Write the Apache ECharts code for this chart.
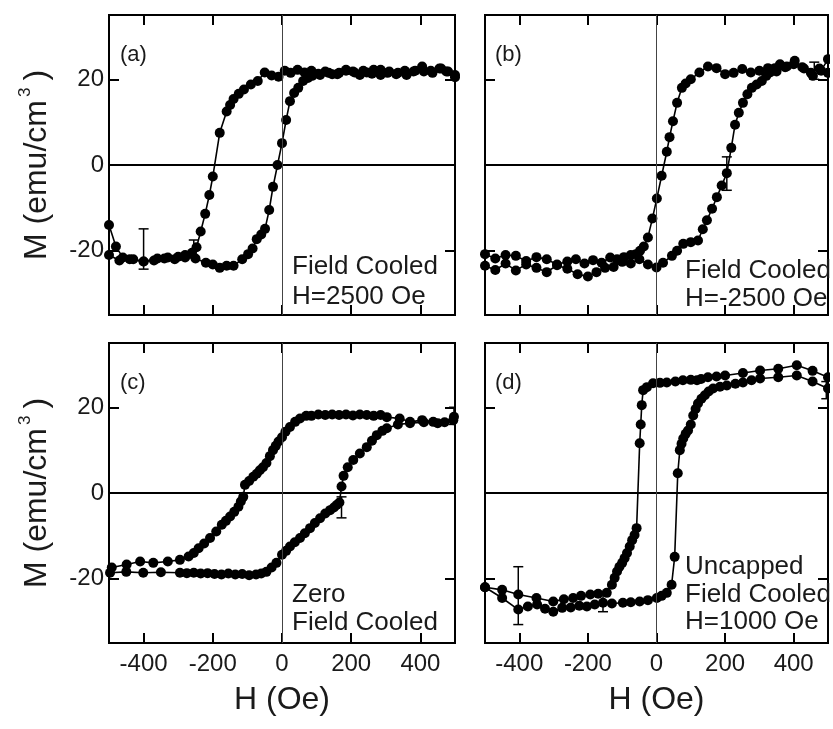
<!DOCTYPE html>
<html>
<head>
<meta charset="utf-8">
<script src="https://cdn.jsdelivr.net/npm/echarts@6/dist/echarts.min.js"></script>
<style>
  html, body { margin: 0; padding: 0; background: #fff; }
  #chart { width: 833px; height: 729px; }
</style>
</head>
<body>
<div id="chart"></div>
<script>
// Axis ticks shared by all four panels
const H_TICKS = [-400, -200, 0, 200, 400];
const M_TICKS = [-20, 0, 20];

// (a) Field cooled, H = 2500 Oe : decreasing-field branch then increasing-field branch
const aDownH = [500, 475, 455, 430, 405, 380, 355, 330, 305, 285, 265, 245, 225, 205, 185, 165, 145, 125, 105, 85, 65, 45, 25, 8, -10, -30, -50, -70, -90, -110, -125, -140, -150, -160, -180, -200, -210, -222, -235, -247, -260, -280, -300, -330, -360, -400, -440, -470, -500];
const aDownM = [20.5, 21.8, 22.5, 22.0, 23.0, 21.8, 22.0, 21.2, 21.5, 21.0, 22.2, 21.6, 21.0, 21.8, 22.2, 21.5, 21.2, 21.8, 21.3, 22.0, 21.6, 22.2, 21.5, 22.0, 20.6, 20.9, 21.6, 19.6, 18.8, 17.6, 16.6, 15.4, 14.0, 12.5, 7.5, -2.7, -7.0, -11.4, -15.5, -19.2, -20.5, -21.0, -21.4, -21.6, -21.8, -22.5, -22.0, -22.3, -21.0];
const aUpH = [-500, -480, -460, -430, -400, -370, -340, -310, -280, -250, -220, -200, -180, -160, -140, -115, -98, -85, -73, -60, -49, -37, -26, -13, 0, 12, 23, 35, 47, 61, 75, 87, 110, 135, 160, 185, 210, 235, 260, 285, 310, 335, 360, 385, 410, 435, 460, 480, 500];
const aUpM = [-14.0, -19.0, -21.6, -22.0, -22.5, -22.3, -21.8, -22.0, -21.6, -21.8, -22.8, -23.2, -24.0, -23.5, -23.5, -22.0, -20.8, -19.5, -17.3, -16.2, -14.9, -10.5, -5.1, 0.0, 5.1, 10.5, 14.9, 16.8, 18.0, 19.6, 20.3, 20.8, 21.0, 21.5, 21.2, 22.0, 21.6, 22.0, 21.3, 22.2, 21.8, 21.5, 21.0, 22.0, 21.8, 21.5, 22.5, 21.8, 21.0];
const aErr = [[-400, -24.3, -14.9], [-255, -21.5, -17.5]];

// (b) Field cooled, H = -2500 Oe
const bDownH = [500, 475, 450, 425, 400, 375, 350, 325, 300, 275, 250, 225, 200, 175, 150, 125, 100, 85, 74, 60, 48, 38, 30, 15, 1, -12, -25, -37, -48, -60, -75, -95, -115, -135, -160, -185, -210, -235, -260, -290, -320, -350, -380, -410, -440, -470, -500];
const bDownM = [21.5, 22.5, 21.5, 22.8, 23.5, 22.8, 21.8, 22.6, 22.0, 21.6, 22.4, 21.5, 21.2, 22.6, 23.0, 21.6, 20.0, 19.0, 18.0, 14.5, 10.2, 6.5, 3.1, -2.5, -7.8, -12.5, -16.9, -19.0, -20.0, -20.8, -21.0, -21.5, -22.0, -21.6, -22.8, -22.2, -23.0, -22.0, -22.5, -23.2, -22.0, -21.5, -22.4, -21.2, -21.0, -21.8, -20.8];
const bUpH = [-500, -470, -440, -410, -380, -350, -320, -290, -260, -230, -200, -175, -150, -125, -100, -75, -50, -25, 0, 19, 45, 60, 78, 100, 121, 135, 147, 162, 176, 190, 205, 218, 229, 240, 252, 265, 278, 292, 307, 320, 331, 345, 360, 380, 403, 430, 456, 480, 500];
const bUpM = [-23.5, -24.5, -23.0, -24.6, -23.2, -24.0, -25.0, -23.4, -24.2, -25.5, -26.0, -25.0, -24.0, -23.8, -22.6, -23.0, -22.0, -23.2, -23.9, -22.8, -21.2, -20.0, -18.4, -18.0, -17.6, -15.0, -12.9, -10.2, -7.5, -4.8, -1.9, 4.0, 9.4, 12.2, 14.5, 16.5, 18.0, 18.8, 19.6, 20.8, 21.6, 22.6, 23.5, 23.0, 24.3, 22.5, 20.8, 22.0, 24.7];
const bErr = [[205, -5.9, 1.9], [460, 20.0, 24.0]];

// (c) Zero field cooled
const cDownH = [497, 470, 437, 405, 370, 340, 303, 285, 265, 245, 225, 205, 185, 165, 145, 125, 105, 85, 70, 52, 38, 23, 10, 0, -10, -18, -26, -35, -45, -55, -64, -73, -83, -95, -107, -112, -119, -126, -138, -150, -162, -174, -190, -208, -225, -241, -255, -270, -295, -330, -372, -410, -449, -492];
const cDownM = [17.8, 16.5, 16.6, 17.0, 16.6, 17.4, 17.7, 18.2, 18.0, 18.2, 18.3, 18.1, 18.3, 18.2, 18.3, 18.2, 18.3, 18.0, 18.0, 17.4, 16.6, 15.4, 14.3, 13.0, 12.0, 11.0, 10.0, 8.6, 7.0, 6.0, 5.3, 4.5, 3.8, 2.8, 1.9, -0.9, -2.0, -3.2, -4.4, -5.5, -6.5, -7.4, -9.0, -10.5, -11.8, -12.9, -14.0, -14.8, -15.6, -16.0, -16.3, -16.0, -16.7, -17.4];
const cUpH = [-497, -450, -401, -350, -295, -275, -255, -235, -215, -195, -175, -155, -135, -115, -95, -75, -60, -45, -30, -16, 0, 12, 23, 37, 52, 66, 81, 95, 110, 125, 139, 150, 158, 166, 172, 178, 190, 206, 225, 245, 260, 274, 290, 303, 335, 370, 410, 450, 495];
const cUpM = [-18.6, -18.4, -18.6, -18.5, -18.6, -18.7, -18.6, -18.8, -18.7, -18.9, -19.0, -18.8, -19.0, -18.9, -19.2, -19.0, -18.8, -18.4, -17.4, -16.3, -14.4, -13.5, -12.5, -11.5, -10.5, -9.4, -8.2, -7.0, -5.9, -4.8, -4.0, -3.4, -2.8, -2.2, 1.5, 4.0, 6.0, 7.7, 9.2, 10.7, 12.2, 13.5, 14.5, 15.1, 16.0, 16.3, 16.5, 16.3, 17.0];
const cErr = [[172, -5.8, -0.9], [497, 16.0, 20.0]];

// (d) Uncapped, field cooled, H = 1000 Oe
const dDownH = [500, 455, 409, 355, 302, 252, 200, 175, 150, 130, 118, 100, 77, 55, 30, 10, -10, -28, -39, -43, -46, -49, -58, -64, -71, -78, -86, -93, -100, -108, -115, -122, -130, -145, -170, -193, -220, -243, -270, -301, -350, -403, -450, -500];
const dDownM = [27.0, 28.5, 29.8, 29.0, 28.6, 28.0, 27.4, 27.2, 27.0, 26.6, 26.3, 26.4, 26.3, 26.0, 25.8, 25.7, 25.6, 24.7, 24.0, 20.5, 16.0, 11.6, -8.2, -9.8, -11.0, -12.5, -14.0, -15.2, -16.3, -17.2, -18.3, -19.8, -21.4, -23.3, -23.5, -23.7, -24.0, -24.5, -24.8, -25.3, -24.5, -23.7, -22.6, -22.0];
const dUpH = [-500, -450, -403, -375, -348, -325, -301, -275, -250, -225, -203, -180, -156, -130, -98, -75, -49, -25, 1, 15, 30, 44, 53, 62, 68, 73, 78, 85, 92, 100, 107, 114, 121, 131, 141, 152, 165, 185, 205, 230, 252, 277, 302, 355, 409, 455, 500];
const dUpM = [-22.0, -24.5, -27.2, -26.5, -26.0, -27.0, -27.7, -26.8, -26.7, -26.3, -26.5, -26.0, -25.6, -25.8, -25.6, -25.5, -25.3, -25.0, -24.5, -24.0, -23.3, -21.4, -14.9, 4.6, 10.0, 11.5, 12.7, 13.8, 14.6, 16.0, 18.1, 19.6, 20.9, 22.0, 22.8, 23.7, 24.4, 24.8, 25.1, 25.5, 25.8, 26.3, 26.7, 27.0, 27.4, 26.0, 24.4];
const dErr = [[-403, -30.7, -17.2], [-156, -27.7, -23.3], [495, 22.0, 26.0]];

const FONT = '"Liberation Sans", Arial, Helvetica, sans-serif';
const INK = '#1a1a1a';

const panels = [
  { box: { left: 109, top: 15, width: 346, height: 300 }, down: [aDownH, aDownM], up: [aUpH, aUpM], err: aErr, yTitle: true, xTitle: false },
  { box: { left: 485, top: 15, width: 343, height: 300 }, down: [bDownH, bDownM], up: [bUpH, bUpM], err: bErr, yTitle: false, xTitle: false },
  { box: { left: 109, top: 343, width: 346, height: 300 }, down: [cDownH, cDownM], up: [cUpH, cUpM], err: cErr, yTitle: true, xTitle: true },
  { box: { left: 485, top: 343, width: 343, height: 300 }, down: [dDownH, dDownM], up: [dUpH, dUpM], err: dErr, yTitle: false, xTitle: true }
];

const pairs = (xs, ys) => xs.map((x, i) => [x, ys[i]]);

const tickStyle = { show: true, inside: true, length: 10, lineStyle: { color: '#000', width: 2 } };
const noLine = { show: false, onZero: false };

const grids = [], xAxes = [], yAxes = [], series = [];

panels.forEach((p, i) => {
  grids.push(Object.assign({ show: true, borderColor: '#000', borderWidth: 2, backgroundColor: 'transparent' }, p.box));
  const xBase = {
    type: 'value', gridIndex: i, min: -500, max: 500,
    splitLine: { show: false }, axisLine: noLine,
    axisTick: Object.assign({ customValues: H_TICKS }, tickStyle)
  };
  xAxes.push(Object.assign({}, xBase, {
    position: 'bottom',
    axisLabel: { show: p.xTitle, customValues: H_TICKS, fontSize: 24, fontFamily: FONT, color: INK, margin: 9 },
    name: p.xTitle ? 'H (Oe)' : '', nameLocation: 'middle', nameGap: 41,
    nameTextStyle: { fontSize: 32, fontFamily: FONT, color: INK }
  }));
  xAxes.push(Object.assign({}, xBase, { position: 'top', axisLabel: { show: false } }));

  const yBase = {
    type: 'value', gridIndex: i, min: -35, max: 35,
    splitLine: { show: false }, axisLine: noLine,
    axisTick: Object.assign({ customValues: M_TICKS }, tickStyle)
  };
  yAxes.push(Object.assign({}, yBase, {
    position: 'left',
    axisLabel: { show: p.yTitle, customValues: M_TICKS, fontSize: 24, fontFamily: FONT, color: INK, margin: 5 },
    name: p.yTitle ? '{m|M (emu/cm}{s|3}{m|)}' : '', nameLocation: 'middle', nameGap: 52, nameRotate: 90,
    nameTextStyle: {
      rich: {
        m: { fontSize: 32, fontFamily: FONT, color: INK, lineHeight: 40 },
        s: { fontSize: 17, fontFamily: FONT, color: INK, verticalAlign: 'top', padding: [0, 7, 0, 3] }
      }
    }
  }));
  yAxes.push(Object.assign({}, yBase, { position: 'right', axisLabel: { show: false } }));

  const lineCommon = {
    type: 'line', xAxisIndex: 2 * i, yAxisIndex: 2 * i,
    symbol: 'circle', symbolSize: 10, showSymbol: true,
    itemStyle: { color: '#000' }, lineStyle: { color: '#000', width: 1.6 },
    animation: false, silent: true, z: 3
  };
  series.push(Object.assign({}, lineCommon, {
    data: pairs(p.down[0], p.down[1]),
    markLine: {
      silent: true, symbol: 'none', label: { show: false }, animation: false,
      data: [
        { yAxis: 0, lineStyle: { color: '#000', width: 2, type: 'solid' } },
        { xAxis: 0, lineStyle: { color: '#444', width: 1, type: 'solid' } }
      ]
    }
  }));
  series.push(Object.assign({}, lineCommon, { data: pairs(p.up[0], p.up[1]) }));
  series.push({
    type: 'custom', xAxisIndex: 2 * i, yAxisIndex: 2 * i, data: p.err, clip: true, z: 4,
    animation: false, silent: true,
    renderItem: function (params, api) {
      const h = api.value(0), lo = api.value(1), hi = api.value(2);
      const a = api.coord([h, lo]), b = api.coord([h, hi]);
      const cap = 5, st = { stroke: '#000', lineWidth: 1.5 };
      return {
        type: 'group', children: [
          { type: 'line', shape: { x1: a[0], y1: a[1], x2: b[0], y2: b[1] }, style: st },
          { type: 'line', shape: { x1: a[0] - cap, y1: a[1], x2: a[0] + cap, y2: a[1] }, style: st },
          { type: 'line', shape: { x1: b[0] - cap, y1: b[1], x2: b[0] + cap, y2: b[1] }, style: st }
        ]
      };
    }
  });
});

// Panel tags and sample descriptions
const notes = [
  { t: '(a)', x: 120, y: 55, s: 22 },
  { t: '(b)', x: 495, y: 55, s: 22 },
  { t: '(c)', x: 120, y: 383, s: 22 },
  { t: '(d)', x: 495, y: 383, s: 22 },
  { t: 'Field Cooled', x: 292, y: 267, s: 26 },
  { t: 'H=2500 Oe', x: 292, y: 297, s: 26 },
  { t: 'Field Cooled', x: 685, y: 271, s: 26 },
  { t: 'H=-2500 Oe', x: 685, y: 299, s: 26 },
  { t: 'Zero', x: 292, y: 595, s: 26 },
  { t: 'Field Cooled', x: 292, y: 623, s: 26 },
  { t: 'Uncapped', x: 685, y: 567, s: 26 },
  { t: 'Field Cooled', x: 685, y: 595, s: 26 },
  { t: 'H=1000 Oe', x: 685, y: 622, s: 26 }
];
const graphic = notes.map(n => ({
  type: 'text', z: 50, silent: true,
  style: { text: n.t, x: n.x, y: n.y, fontSize: n.s, fontFamily: FONT, fill: INK, textAlign: 'left', textVerticalAlign: 'middle', verticalAlign: 'middle' }
}));
// keep text of the right-hand panels inside their frames
graphic.push({ type: 'rect', z: 60, silent: true, shape: { x: 830, y: 0, width: 3, height: 729 }, style: { fill: '#fff' } });

const chart = echarts.init(document.getElementById('chart'), null, { renderer: 'canvas' });
chart.setOption({
  backgroundColor: '#fff',
  animation: false,
  grid: grids,
  xAxis: xAxes,
  yAxis: yAxes,
  series: series,
  graphic: graphic
});
</script>
</body>
</html>
